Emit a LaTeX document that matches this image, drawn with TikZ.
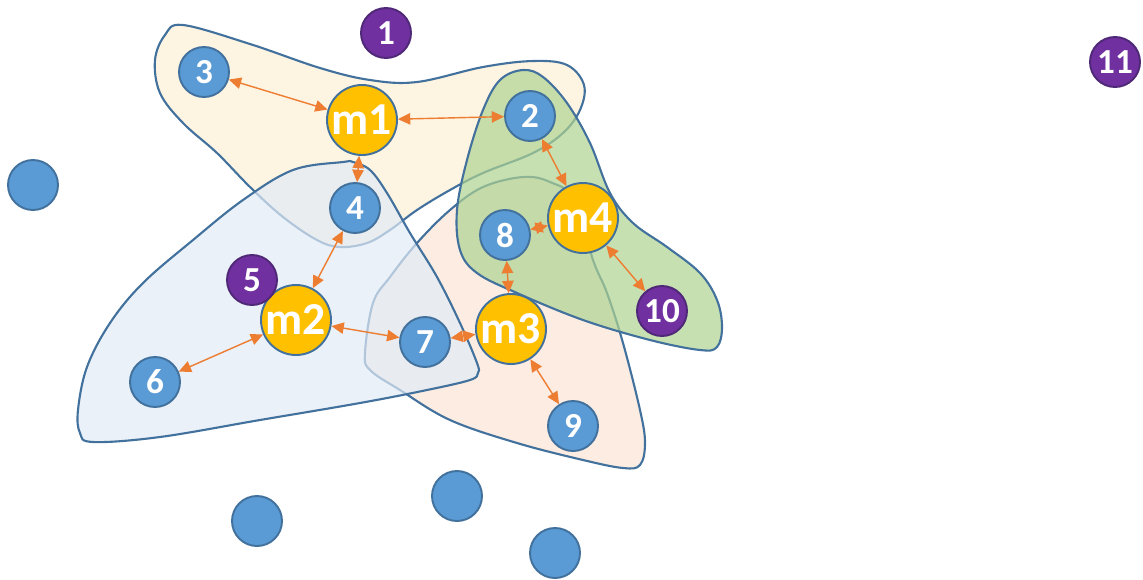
\documentclass[tikz,border=0pt]{standalone}
\usepackage{fontspec}
\setmainfont{Carlito}
\usetikzlibrary{arrows.meta}
\definecolor{rim}{RGB}{65,113,156}
\definecolor{nodeblue}{RGB}{91,155,213}
\definecolor{nodegold}{RGB}{255,192,0}
\definecolor{nodepurple}{RGB}{112,48,160}
\definecolor{rimpurple}{RGB}{80,40,120}
\definecolor{link}{RGB}{237,125,49}
\definecolor{hyorange}{RGB}{254,239,214}
\definecolor{hyblue}{RGB}{225,235,246}
\definecolor{hypeach}{RGB}{251,228,214}
\definecolor{hygreen}{RGB}{174,211,145}
\begin{document}
\begin{tikzpicture}[x=0.02cm,y=-0.02cm,
  hyper/.style={draw=rim,line width=1.2pt,fill opacity=0.7},
  vtx/.style={circle,draw=rim,line width=1.1pt,fill=nodeblue,minimum size=1cm,inner sep=0pt,
    text=white,font=\fontsize{20}{20}\selectfont\bfseries},
  hub/.style={vtx,fill=nodegold,minimum size=1.4cm,font=\fontsize{26}{26}\selectfont\bfseries},
  lone/.style={vtx,fill=nodepurple,draw=rimpurple},
  link/.style={draw=link,line width=0.8pt,{Triangle[length=7pt,width=6.5pt]}-{Triangle[length=7pt,width=6.5pt]}}]
\useasboundingbox (0,0) rectangle (1143,579);

% hyperedges
\draw[hyper,fill=hyorange] plot[smooth cycle,tension=0.6] coordinates {
  (183,25) (250,44) (320,68) (370,80) (417,82) (483,67) (533,61) (567,65) (584,85)
  (580,110) (563,133) (533,153) (483,173) (450,190) (417,210) (390,230) (367,243)
  (340,247) (317,240) (283,217) (250,187) (217,153) (183,123) (160,93) (155,60) (165,35)};
\draw[hyper,fill=hypeach] plot[smooth cycle,tension=0.6] coordinates {
  (523,177) (550,182) (575,200) (593,260) (607,293) (623,343) (640,410) (645,443)
  (640,465) (623,468) (583,460) (517,443) (450,420) (400,390) (370,370) (365,353)
  (373,303) (390,277) (417,243) (450,210) (483,187)};
\draw[hyper,fill=hyblue] plot[smooth cycle,tension=0.6] coordinates {
  (343,162) (293,170) (243,200) (193,240) (143,283) (110,323) (87,367) (78,410)
  (80,433) (93,442) (160,437) (260,420) (360,403) (427,390) (470,380) (478,373)
  (477,363) (460,323) (437,277) (410,233) (387,193) (370,170) (353,162)};
\draw[hyper,fill=hygreen] plot[smooth cycle,tension=0.6] coordinates {
  (523,70) (500,80) (483,110) (467,160) (457,210) (460,250) (477,273) (517,293)
  (583,320) (650,340) (700,350) (717,347) (722,327) (717,300) (700,273) (667,247)
  (633,223) (610,193) (590,143) (567,103) (543,77)};

% vertices
\node[lone] (n1) at (386,33) {1};
\node[lone] (n11) at (1115,62) {11};
\node[vtx] (n3) at (204,72) {3};
\node[hub] (m1) at (362,120) {m1};
\node[vtx] (n2) at (530,116) {2};
\node[vtx] (n4) at (355,208) {4};
\node[hub] (m4) at (583,218) {m4};
\node[vtx] (n8) at (505,235) {8};
\node[hub] (m3) at (511,329) {m3};
\node[vtx] (n7) at (425,342) {7};
\node[lone] (n10) at (662,311) {10};
\node[vtx] (n9) at (573,426) {9};
\node[hub] (m2) at (296,320) {m2};
\node[lone] (n5) at (252,280) {5};
\node[vtx] (n6) at (155,382) {6};
\node[vtx] (a1) at (33,185) {};
\node[vtx] (a2) at (257,521) {};
\node[vtx] (a3) at (457,496) {};
\node[vtx] (a4) at (555,553) {};

% incidences
\draw[link] (n3) -- (m1);
\draw[link] (m1) -- (n2);
\draw[link] (m1) -- (n4);
\draw[link] (n2) -- (m4);
\draw[link] (m4) -- (n8);
\draw[link] (n8) -- (m3);
\draw[link] (m4) -- (n10);
\draw[link] (m3) -- (n9);
\draw[link] (m3) -- (n7);
\draw[link] (m2) -- (n7);
\draw[link] (n4) -- (m2);
\draw[link] (n6) -- (m2);
\end{tikzpicture}
\end{document}
